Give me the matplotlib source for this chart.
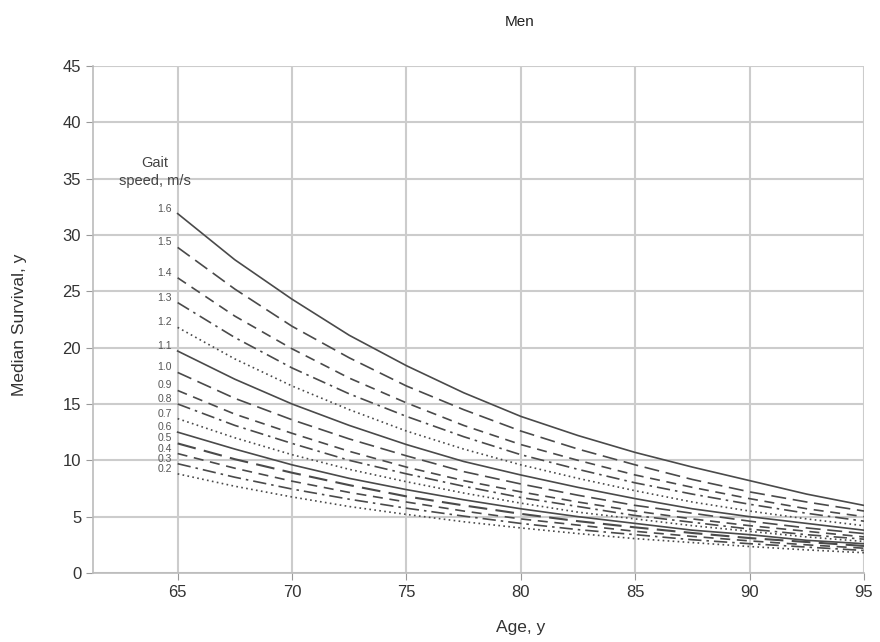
import matplotlib
matplotlib.use("Agg")
import matplotlib.pyplot as plt

ages = [65, 67.5, 70, 72.5, 75, 77.5, 80, 82.5, 85, 87.5, 90, 92.5, 95]
speeds = ["1.6", "1.5", "1.4", "1.3", "1.2", "1.1", "1.0", "0.9", "0.8",
          "0.7", "0.6", "0.5", "0.4", "0.3", "0.2"]

s16 = [31.9, 27.8, 24.3, 21.1, 18.4, 16.0, 13.9, 12.2, 10.7, 9.4, 8.2, 7.0, 6.0]
s15 = [28.9, 25.2, 21.9, 19.1, 16.6, 14.5, 12.6, 11.0, 9.6, 8.3, 7.2, 6.3, 5.5]
s14 = [26.2, 22.8, 19.9, 17.3, 15.1, 13.1, 11.4, 10.0, 8.7, 7.6, 6.6, 5.7, 5.0]
s13 = [24.0, 20.9, 18.2, 15.9, 13.9, 12.1, 10.5, 9.2, 8.0, 7.0, 6.1, 5.3, 4.6]
s12 = [21.8, 19.0, 16.6, 14.5, 12.6, 11.0, 9.6, 8.4, 7.3, 6.3, 5.5, 4.8, 4.2]
s11 = [19.7, 17.2, 15.0, 13.1, 11.4, 9.9, 8.7, 7.6, 6.6, 5.7, 5.0, 4.4, 3.8]
s10 = [17.8, 15.5, 13.6, 11.9, 10.4, 9.0, 7.9, 6.9, 6.0, 5.3, 4.6, 4.0, 3.5]
s09 = [16.2, 14.1, 12.4, 10.8, 9.4, 8.2, 7.2, 6.3, 5.5, 4.8, 4.2, 3.7, 3.2]
s08 = [15.0, 13.1, 11.5, 10.0, 8.8, 7.7, 6.7, 5.9, 5.1, 4.5, 3.9, 3.4, 3.0]
s07 = [13.7, 12.0, 10.5, 9.2, 8.1, 7.1, 6.2, 5.4, 4.8, 4.2, 3.7, 3.2, 2.8]
s06 = [12.5, 11.0, 9.6, 8.4, 7.4, 6.5, 5.7, 5.0, 4.4, 3.8, 3.4, 2.9, 2.6]
s05 = [11.5, 10.1, 8.9, 7.8, 6.8, 6.0, 5.25, 4.6, 4.05, 3.55, 3.1, 2.75, 2.4]
s04 = [10.6, 9.3, 8.15, 7.15, 6.3, 5.5, 4.8, 4.25, 3.7, 3.25, 2.85, 2.5, 2.2]
s03 = [9.7, 8.5, 7.45, 6.55, 5.75, 5.05, 4.4, 3.85, 3.4, 2.95, 2.6, 2.3, 2.0]
s02 = [8.8, 7.7, 6.75, 5.9, 5.2, 4.55, 4.0, 3.5, 3.05, 2.7, 2.35, 2.05, 1.8]

series = [s16, s15, s14, s13, s12, s11, s10, s09, s08, s07, s06, s05, s04, s03, s02]

xticks = [65, 70, 75, 80, 85, 90, 95]
yticks = [0, 5, 10, 15, 20, 25, 30, 35, 40, 45]

plt.rcParams['font.family'] = ['Liberation Sans', 'DejaVu Sans']

styles = ['-', (0, (9, 4)), (0, (6, 4)), (0, (8, 3, 1.5, 3)), (0, (1, 2))]

fig = plt.figure(figsize=(8.8, 6.42), dpi=100)
ax = fig.add_axes([93/880, 1-573/642, (864-93)/880, (573-66)/642])

for i, (lab, vals) in enumerate(zip(speeds, series)):
    ls = styles[i % 5]
    lw = 1.5 if lab == "0.5" else 1.2
    ax.plot(ages, vals, color='#4a4a4a', lw=lw, linestyle=ls)
    ax.text(64.75, vals[0] + 0.45, lab, ha='right', va='center', fontsize=7.5, color='#555555')

ax.text(64.0, 35.6, "Gait\nspeed, m/s", ha='center', va='center', fontsize=10.5,
        color='#444444', linespacing=1.3)

ax.set_xlim(61.3, 95)
ax.set_ylim(0, 45)
ax.set_xticks(xticks)
ax.set_yticks(yticks)
ax.grid(True, color='#cccccc', lw=1.5)
ax.set_axisbelow(True)
for sp in ax.spines.values():
    sp.set_color('#bbbbbb')
    sp.set_linewidth(1.2)
ax.spines['top'].set_visible(False)
ax.spines['right'].set_visible(False)
ax.tick_params(colors='#999999', labelcolor='#333333', labelsize=12, length=5)

ax.set_xlabel("Age, y", fontsize=12.5, color='#333333')
ax.set_ylabel("Median Survival, y", fontsize=12.5, color='#333333')
ax.xaxis.set_label_coords(0.554, -0.092)
ax.yaxis.set_label_coords(-0.086, 0.49)
fig.text(520/880, 1-22/642, "Men", ha='center', va='center', fontsize=11, color='#222222')

fig.savefig("out.png", dpi=100)
